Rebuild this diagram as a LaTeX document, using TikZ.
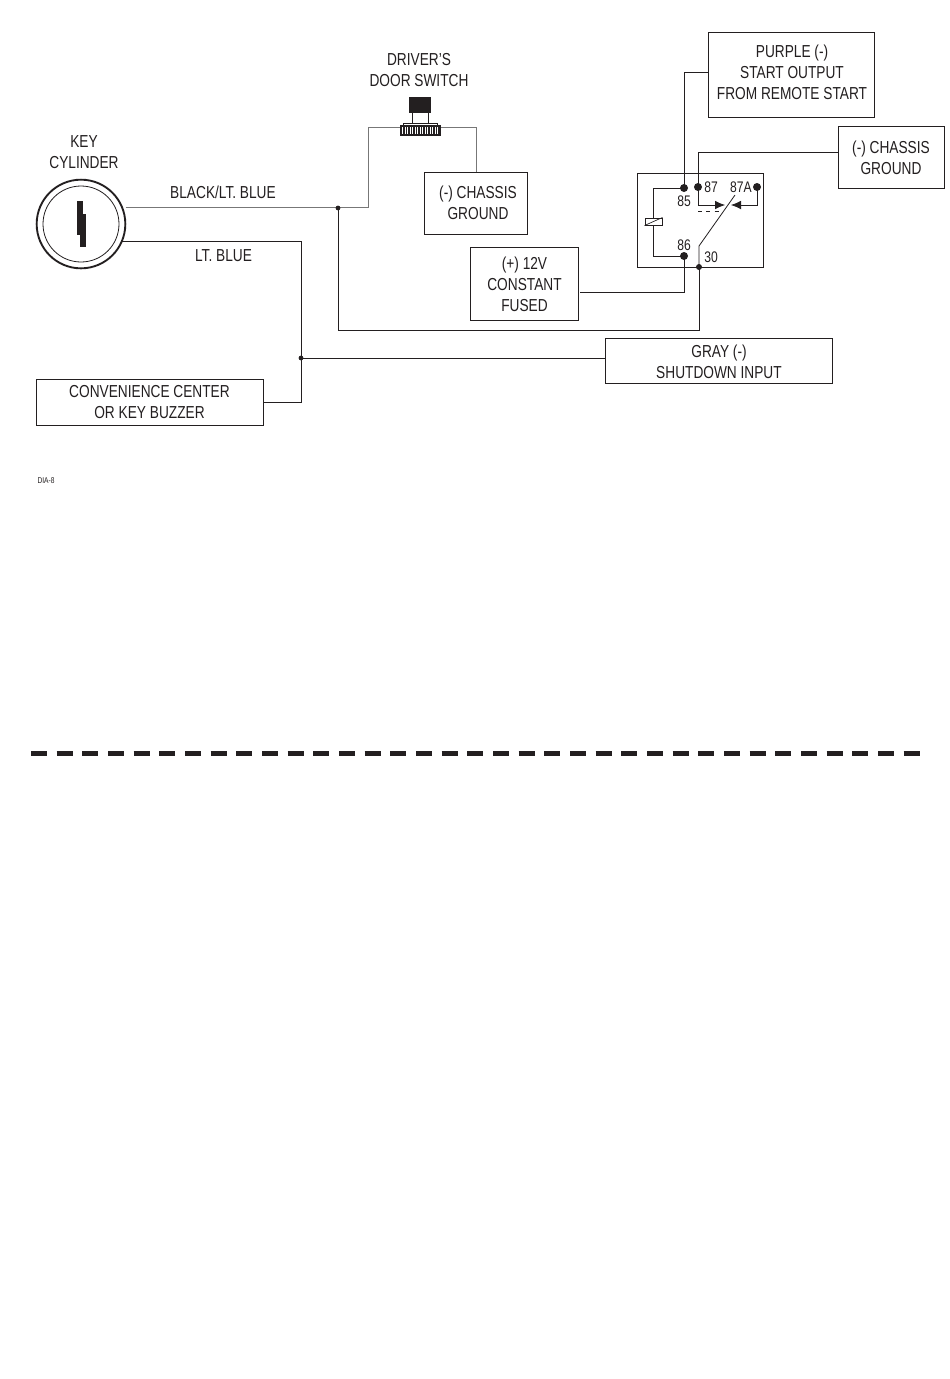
\documentclass[tikz,border=0pt]{standalone}
\usepackage{fontspec}
\setmainfont[FakeStretch=0.79]{Liberation Sans}
\definecolor{ink}{HTML}{231F20}
\definecolor{wiregray}{HTML}{777777}
\usetikzlibrary{arrows.meta}
\tikzset{
  x=0.75pt,y=-0.75pt,
  wire/.style={draw=ink,line width=0.6pt},
  graywire/.style={draw=wiregray,line width=0.65pt},
  boxed/.style={draw=ink,line width=0.7pt,fill=white,inner sep=0pt},
  lbl/.style={font=\fontsize{13}{15.75}\selectfont,text=ink,align=center,inner sep=0pt},
  pin/.style={font=\fontsize{11.5}{13}\selectfont,text=ink,inner sep=0pt},
  bigdot/.style={circle,fill=ink,inner sep=0pt,minimum size=6pt},
  smalldot/.style={circle,fill=ink,inner sep=0pt,minimum size=3.6pt},
  tip/.style={-{Latex[length=7.5pt,width=6.5pt]}},
}
\newcommand{\boxat}[5]{\node[boxed,minimum width=#4*0.75pt,minimum height=#5*0.75pt] (#1) at (#2,#3) {};}
\begin{document}
\begin{tikzpicture}
\useasboundingbox (0,0) rectangle (950,1379);
\fill[white] (0,0) rectangle (950,1379);
% boxes
\boxat{purple}{791}{74.5}{166}{85}
\boxat{chtwo}{891}{157}{106}{62}
\boxat{chone}{475.5}{203}{103}{62}
\boxat{fused}{524}{283.5}{108}{73}
\boxat{gray}{718.5}{360.5}{227}{45}
\boxat{buzzer}{149.5}{402}{227}{46}
\node[draw=ink,line width=0.7pt,inner sep=0pt,minimum width=94.5pt,minimum height=70.5pt] (relay) at (700,220) {};
% box labels
\node[lbl] (purplet) at (792,72) {PURPLE (-)\\START OUTPUT\\FROM REMOTE START};
\node[lbl] (chtwot) at (891,158) {(-) CHASSIS\\GROUND};
\node[lbl] (chonet) at (478,203) {(-) CHASSIS\\GROUND};
\node[lbl] (fusedt) at (524.5,284) {(+) 12V\\CONSTANT\\FUSED};
\node[lbl] (grayt) at (719,361.5) {GRAY (-)\\SHUTDOWN INPUT};
\node[lbl] (buzzert) at (149.5,402.5) {CONVENIENCE CENTER\\OR KEY BUZZER};
\node[lbl] (keyt) at (84,152.5) {KEY\\CYLINDER};
\node[lbl] (doort) at (419,70.5) {DRIVER'S\\DOOR SWITCH};
\node[lbl] (blt) at (223,192.5) {BLACK/LT. BLUE};
\node[lbl] (lbt) at (223.5,255.5) {LT. BLUE};
\node[font=\fontsize{6.3}{7}\selectfont,text=ink,inner sep=0pt] (dia) at (46,480.5) {DIA-8};
% key cylinder
\node[circle,draw=ink,line width=1.4pt,fill=white,minimum size=66.5pt,inner sep=0pt] (keyo) at (81,224) {};
\node[circle,draw=ink,line width=0.6pt,minimum size=57pt,inner sep=0pt] (keyi) at (81,224) {};
\fill[ink] (77,201) rectangle (83,235);
\fill[ink] (80,214) rectangle (86,247);
% coordinates
\coordinate (kA) at (125.5,207.5);
\coordinate (kB) at (122,241);
\coordinate (jA) at (338,208);
\coordinate (jB) at (301,358);
\coordinate (swL) at (400,127.5);
\coordinate (swR) at (441,127.5);
\coordinate (p85) at (684,188);
\coordinate (p86) at (684,256);
\coordinate (p87) at (698,187);
\coordinate (p87a) at (757,187);
\coordinate (p30) at (699,267);
% wires
\draw[graywire] (kA) -- (368,207.5) -- (368,127.5) -- (swL);
\draw[graywire] (swR) -- (476,127.5) -- (476,172);
\draw[wire] (jA) -- (338,330) -- (699,330) -- (p30);
\draw[wire] (kB) -- (301,241) -- (301,402) -- (263,402);
\draw[wire] (jB) -- (605,358);
\draw[wire] (580,292) -- (684,292) -- (p86);
\draw[wire] (708,72) -- (684,72) -- (p85);
\draw[wire] (838,152) -- (698,152) -- (p87);
\node[smalldot] (dotA) at (jA) {};
\node[smalldot] (dotB) at (jB) {};
% relay internals
\draw[wire] (p85) -- (653,188) -- (653,256) -- (p86);
\node[draw=ink,line width=0.6pt,fill=white,minimum width=12.8pt,minimum height=5.4pt,inner sep=0pt] (coil) at (653.5,221.5) {};
\draw[ink,line width=0.5pt] (coil.south west) -- (coil.north east);
\draw[wire] (p30) -- (699,246) -- (735,195);
\draw[wire,tip] (p87) -- (698,205) -- (725,205);
\draw[wire,tip] (p87a) -- (757,205) -- (731,205);
\draw[ink,line width=0.7pt,dash pattern=on 3pt off 3.2pt] (698,211) -- (720,211);
\node[bigdot] (d85) at (p85) {};
\node[bigdot] (d86) at (p86) {};
\node[bigdot] (d87) at (p87) {};
\node[bigdot] (d87a) at (p87a) {};
\node[circle,fill=ink,inner sep=0pt,minimum size=4.5pt] (d30) at (p30) {};
\node[pin] (t85) at (684,201) {85};
\node[pin] (t86) at (684,245) {86};
\node[pin] (t87) at (711,187) {87};
\node[pin] (t87a) at (741,187) {87A};
\node[pin] (t30) at (711,257) {30};
% door switch
\fill[ink] (409,97) rectangle (431,113);
\draw[ink,line width=0.75pt] (412,113) -- (412,124) (428,113) -- (428,124);
\draw[ink,line width=0.6pt] (403,123.5) rectangle (437,126);
\fill[ink] (400,125) rectangle (441,135.5);
\foreach \sx in {402.5,405,...,438}{\draw[white,line width=0.6pt] (\sx,127) -- (\sx,133.5);}
% page rule
\draw[ink,line width=3.75pt,dash pattern=on 12pt off 7.25pt] (31,753.5) -- (920,753.5);
\end{tikzpicture}
\end{document}
